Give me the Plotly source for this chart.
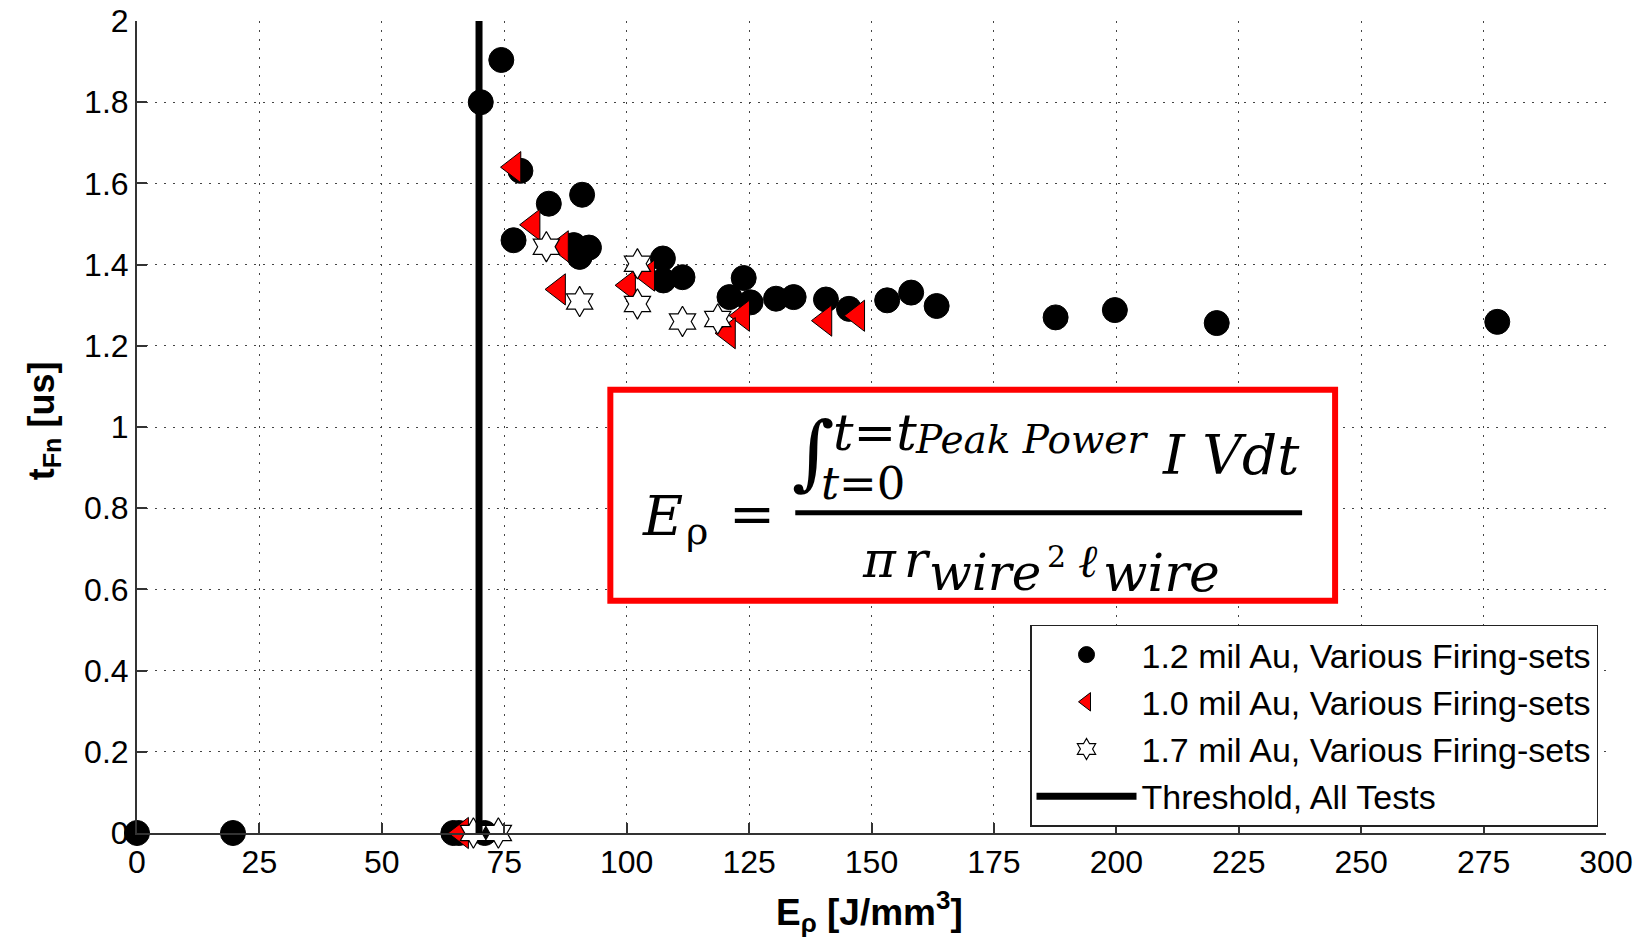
import plotly.graph_objects as go

# ---------------- data ----------------
au12_x = [0, 19.6, 64.6, 65.8, 71.0, 70.2, 74.4, 78.3, 84.1, 90.9, 76.9, 89.2, 90.4, 92.3,
          107.4, 107.5, 111.4, 123.9, 121.0, 125.3, 130.5, 134.1, 140.7, 145.4, 153.2,
          158.1, 163.3, 187.6, 199.7, 220.5, 277.8]
au12_y = [0, 0, 0, 0, 0, 1.80, 1.904, 1.631, 1.550, 1.572, 1.460, 1.448, 1.419, 1.442,
          1.415, 1.361, 1.369, 1.367, 1.320, 1.307, 1.316, 1.320, 1.314, 1.291, 1.312,
          1.331, 1.298, 1.270, 1.288, 1.256, 1.259]

au10_x = [66.3, 77.0, 80.9, 86.7, 86.1, 100.4, 104.3, 123.7, 120.8, 140.5, 147.2]
au10_y = [0, 1.640, 1.498, 1.445, 1.339, 1.349, 1.373, 1.274, 1.231, 1.262, 1.274]

au17_x = [68.7, 73.8, 83.6, 90.4, 102.2, 102.2, 111.4, 118.6]
au17_y = [0, 0, 1.444, 1.309, 1.402, 1.303, 1.260, 1.266]

threshold_x = [69.85, 69.85]
threshold_y = [0, 2]

x_ticks = list(range(0, 301, 25))
y_ticks = [0, 0.2, 0.4, 0.6, 0.8, 1, 1.2, 1.4, 1.6, 1.8, 2]

names = ["1.2 mil Au, Various Firing-sets",
         "1.0 mil Au, Various Firing-sets",
         "1.7 mil Au, Various Firing-sets",
         "Threshold, All Tests"]

# ---------------- layout helpers (pixel -> paper) ----------------
W, H = 1646, 950
L, R, T, B = 136.5, 1606, 21, 833.5


def px(x):
    return (x - L) / (R - L)


def py(y):
    return (B - y) / (B - T)


SANS = "Liberation Sans, Arial, sans-serif"
SERIF = "DejaVu Serif, serif"

fig = go.Figure()
fig.add_trace(go.Scatter(x=au12_x, y=au12_y, mode="markers", name=names[0],
                         cliponaxis=False,
                         marker=dict(symbol="circle", size=25, color="black",
                                     line=dict(color="black", width=1))))
fig.add_trace(go.Scatter(x=au10_x, y=au10_y, mode="markers", name=names[1],
                         cliponaxis=False,
                         marker=dict(symbol="triangle-left", size=27, color="#ff0000",
                                     line=dict(color="black", width=1))))
fig.add_trace(go.Scatter(x=au17_x, y=au17_y, mode="markers", name=names[2],
                         cliponaxis=False,
                         marker=dict(symbol="hexagram", size=23, color="white",
                                     line=dict(color="black", width=1.2))))
fig.add_trace(go.Scatter(x=threshold_x, y=threshold_y, mode="lines", name=names[3],
                         cliponaxis=False,
                         line=dict(color="black", width=7)))

grid = dict(showgrid=True, gridcolor="#444", gridwidth=1.2, griddash="2px,7px")

fig.update_xaxes(range=[0, 300], tickvals=x_ticks, ticktext=[str(v) for v in x_ticks],
                 ticks="inside", ticklen=10, tickwidth=1.5, tickcolor="#333",
                 showline=True, linecolor="#333", linewidth=2, zeroline=False,
                 automargin=False,
                 tickfont=dict(family=SANS, size=32, color="black"), **grid)
fig.update_yaxes(range=[0, 2], tickvals=y_ticks, ticktext=[("%g" % v) for v in y_ticks],
                 ticks="inside", ticklen=10, tickwidth=1.5, tickcolor="#333",
                 showline=True, linecolor="#333", linewidth=2, zeroline=False,
                 automargin=False,
                 tickfont=dict(family=SANS, size=32, color="black"), **grid)

annotations = []


def ann(text, x, y, size, xanchor="left", family=SERIF, yanchor="middle", angle=0):
    annotations.append(dict(text=text, x=px(x), y=py(y), xref="paper", yref="paper",
                            xanchor=xanchor, yanchor=yanchor, showarrow=False,
                            textangle=angle,
                            font=dict(family=family, size=size, color="black")))


# axis titles
ann("<b>E<sub>ρ</sub> [J/mm<sup>3</sup>]</b>", 869, 912, 37, xanchor="center", family=SANS)
ann("<b>t<sub>Fn</sub> [us]</b>", 43, 421, 36, xanchor="center", family=SANS, angle=-90)

# formula pieces
ann("<i>E</i>", 640, 516, 55)
ann("ρ", 684, 531, 38)
ann("=", 752, 514, 55, xanchor="center")
ann("∫", 813, 452, 82, xanchor="center")
ann("<i>t</i>=<i>t</i>", 831, 433, 51)
ann("<i>Peak Power</i>", 913, 440, 39)
ann("<i>t</i>=0", 819, 484, 45)
ann("<i>I Vdt</i>", 1302, 455, 55, xanchor="right")
ann("<i>π</i>", 860, 560, 50)
ann("<i>r</i>", 902, 560, 50)
ann("<i>wire</i>", 927, 573, 50)
ann("2", 1045, 557, 30)
ann("<i>ℓ</i>", 1076, 561, 46)
ann("<i>wire</i>", 1101, 573, 52)

shapes = [
    dict(type="rect", xref="paper", yref="paper",
         x0=px(610), x1=px(1335), y0=py(601), y1=py(390),
         line=dict(color="#ff0000", width=6), fillcolor="white", layer="above"),
    dict(type="line", xref="paper", yref="paper",
         x0=px(795), x1=px(1302), y0=py(513), y1=py(513),
         line=dict(color="black", width=5), layer="above"),
]

fig.update_layout(
    width=W, height=H,
    margin=dict(l=L, r=W - R, t=T, b=H - B, pad=0),
    paper_bgcolor="white", plot_bgcolor="white",
    showlegend=True,
    legend=dict(x=px(1598), y=py(827), xanchor="right", yanchor="bottom",
                bgcolor="white", bordercolor="#222", borderwidth=1.5,
                font=dict(family=SANS, size=34, color="black"),
                tracegroupgap=0, itemwidth=100),
    annotations=annotations,
    shapes=shapes,
)

fig.write_html("out.html")
